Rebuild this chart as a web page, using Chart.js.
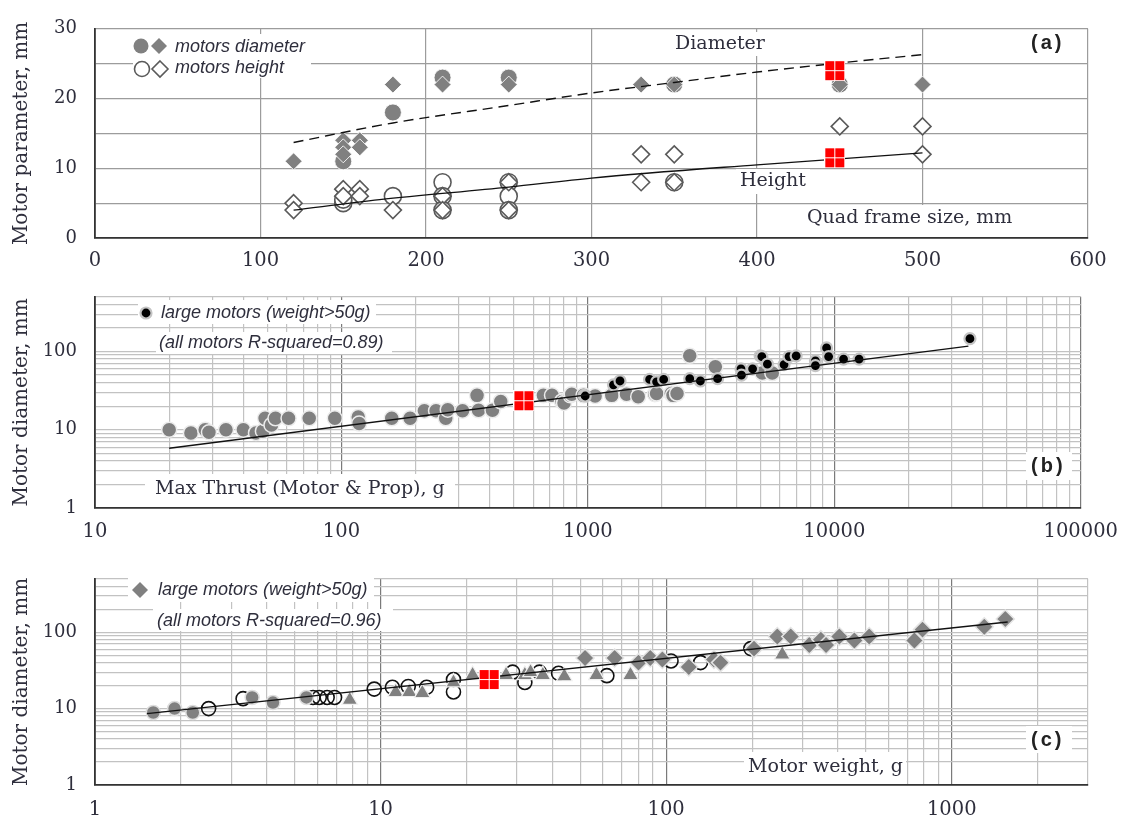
<!DOCTYPE html>
<html>
<head>
<meta charset="utf-8">
<script src="https://cdn.jsdelivr.net/npm/chart.js@4.4.1/dist/chart.umd.min.js"></script>
<style>
  html, body { margin: 0; padding: 0; background: #fff; }
  #page { position: relative; width: 1130px; height: 822px; overflow: hidden; background: #fff; }
  #page canvas { position: absolute; left: 0; }
</style>
</head>
<body>
<div id="page">
  <canvas id="panelA" width="1130" height="275" style="top:0px"></canvas>
  <canvas id="panelB" width="1130" height="277" style="top:268px"></canvas>
  <canvas id="panelC" width="1130" height="272" style="top:550px"></canvas>
</div>
<script>
// ---------- (a) motor size vs quad frame size ----------
const frameTicks = [0, 100, 200, 300, 400, 500, 600];
const paramTicks = [0, 10, 20, 30];

const frameDiaDiamond = [120, 150, 150, 150, 160, 160, 180, 210, 250, 330, 350, 450, 500];
const diaDiamond      = [11, 14, 13, 12, 14, 13, 22, 22, 22, 22, 22, 22, 22];
const frameDiaCircle  = [150, 180, 210, 250, 350, 450];
const diaCircle       = [11, 18, 23, 23, 22, 22];

const frameHtDiamond = [120, 120, 150, 150, 160, 160, 180, 210, 210, 250, 250, 330, 330, 350, 350, 450, 500, 500];
const htDiamond      = [5, 4, 7, 6, 7, 6, 4, 6, 4, 8, 4, 12, 8, 12, 8, 16, 16, 12];
const frameHtCircle  = [150, 150, 180, 210, 210, 210, 250, 250, 250, 350];
const htCircle       = [5, 5.5, 6, 8, 6, 4, 8, 6, 4, 8];

const diaTrendFrame = [120, 180, 250, 300, 350, 400, 450, 500];
const diaTrend      = [13.7, 16.5, 19.0, 20.8, 22.3, 23.8, 25.1, 26.3];
const htTrendFrame  = [120, 172, 250, 300, 400, 500];
const htTrend       = [4.0, 5.5, 7.3, 8.6, 10.5, 12.2];

const ownFrame = [447, 447];
const ownParam = [24, 11.5];

// ---------- (b) motor diameter vs max thrust ----------
const thrustDecades = [10, 100, 1000, 10000, 100000];
const diamDecades   = [1, 10, 100];

const thrustSmall = [20, 24.5, 28, 29, 34, 40, 45, 48, 49, 52, 54, 61, 74, 94, 117, 118, 160, 190, 217, 242, 265, 270, 310, 355, 360, 410, 443,
                     660, 715, 785, 800, 850, 860, 960, 1070, 1250, 1435, 1600, 1870, 1900, 2180, 2215, 2300, 2590, 3290, 5100, 5600];
const diamSmall   = [10, 9.1, 10, 9.3, 10, 10, 9.1, 9.6, 14, 11.5, 14, 14, 14, 14, 14.5, 12, 14, 14, 17.5, 17.5, 14, 18, 17.5, 27.5, 17.7, 17.7, 23,
                     27.5, 27.5, 23, 22, 27.5, 28.5, 27.5, 27, 27.5, 28.5, 26.5, 28.5, 29, 29, 27.5, 29, 88, 64, 53, 53];
const thrustLarge = [965, 975, 1270, 1350, 1780, 1900, 2030, 2590, 2860, 3360, 4180, 4200, 4660, 5000, 5080, 5350, 6250, 6550, 7000,
                     8380, 8380, 9300, 9480, 10900, 12600, 35500];
const diamLarge   = [27.5, 27, 37.5, 42, 44, 41, 44, 45, 42, 45, 60, 50, 60, 88, 86, 69, 68, 86, 88,
                     76, 66, 111, 86, 80, 80, 146];
const thrustTrend = [20, 35000];
const diamTrendB  = [5.8, 117];
const ownThrust = [550];
const ownDiamB  = [23.5];

// ---------- (c) motor diameter vs motor weight ----------
const weightDecades = [1, 10, 100, 1000];

const weightSmallDot = [1.6, 1.9, 2.2, 3.55, 4.2, 5.5];
const diamSmallDot   = [8.9, 10, 8.9, 14, 12, 14];
const weightRing = [2.5, 3.3, 5.8, 6.1, 6.5, 6.9, 9.5, 11, 12.5, 14.5, 18, 18, 29, 32, 36, 42, 62, 104, 132, 198];
const diamRing   = [10, 13.5, 14, 14, 14, 14, 18, 19, 19.5, 19, 16.5, 24, 30, 22, 30, 29, 27, 42, 40, 61];
const weightTri = [7.8, 11.3, 12.6, 14, 18, 21, 27.5, 32, 33.5, 37, 44, 57, 75, 255];
const diamTri   = [13, 16.5, 16.5, 16, 22, 27.5, 27.5, 27.5, 30, 27.5, 26.5, 27.5, 27.5, 51];
const weightLarge = [52, 66, 80, 88, 97, 120, 147, 155, 203, 245, 273, 317, 348, 363, 404, 456, 514, 740, 790, 1300, 1540];
const diamLargeC  = [46, 46, 40, 46, 44, 35, 44, 40, 61, 88, 88, 68, 80, 68, 88, 78, 88, 78, 108, 118, 149];
const weightTrend = [1.52, 1570];
const diamTrendC  = [8.6, 136];
const ownWeight = [24];
const ownDiamC  = [24];

// ---------- shared styling ----------
const GRAY = '#808080';
const INK = '#2e2e3c';
const SERIF = 'DejaVu Serif';
const SANS = 'Liberation Sans';

const xy = (xs, ys) => xs.map((x, i) => ({ x, y: ys[i] }));

// red 2x2 block marker
function blockMarker() {
  const c = document.createElement('canvas');
  c.width = 21; c.height = 21;
  const g = c.getContext('2d');
  g.fillStyle = '#fff';
  g.fillRect(0, 0, 21, 21);
  g.fillStyle = '#ff0000';
  [[1, 1], [11, 1], [1, 11], [11, 11]].forEach(([x, y]) => g.fillRect(x, y, 9, 9));
  return c;
}
const BLOCK = blockMarker();

// grid values 1..9 within each decade, up to the axis maximum
function logGrid(decades, max) {
  const out = [];
  decades.forEach(d => {
    for (let m = 1; m <= 9; m++) {
      const v = +(d * m).toPrecision(6);
      if (v <= max * (1 + 1e-9)) out.push(v);
    }
  });
  return [...new Set(out)];
}

const xTickFont = () => ({ family: SERIF, size: 19.5 });
const yTickFont = () => ({ family: SERIF, size: 18 });
const axisTitle = text => ({ display: true, text, font: { family: SERIF, size: 20 }, color: INK, padding: { top: 10, bottom: 0 } });

function linearAxisX(min, max, labels, tickPad) {
  return {
    type: 'linear', min, max,
    afterFit: s => { s.height = 37; },
    ticks: { stepSize: 100, font: xTickFont(), color: INK, padding: tickPad, maxRotation: 0, autoSkip: false,
             callback: v => labels.includes(v) ? String(v) : '' },
    grid: { color: '#9c9c9c', lineWidth: 1.2, drawTicks: false },
    border: { color: '#333', width: 1.8 }
  };
}

function logAxis(min, max, decades, isX, tickPad, title) {
  const grid = logGrid(decades, max);
  const axis = {
    type: 'logarithmic', min, max,
    afterBuildTicks: s => { s.ticks = grid.map(v => ({ value: v })); },
    ticks: { font: isX ? xTickFont() : yTickFont(), color: INK, padding: tickPad, maxRotation: 0, autoSkip: false,
             callback: v => decades.includes(v) ? String(v) : '' },
    grid: {
      lineWidth: 1.2, drawTicks: false,
      color: ctx => (isX && ctx.tick && decades.includes(ctx.tick.value)) ? '#7a7a7a' : '#c2c2c2'
    },
    border: { color: '#333', width: 1.8 }
  };
  if (isX) {
    axis.afterFit = s => { s.height = 37; };
  } else {
    axis.afterFit = s => { s.width = 95; };
    axis.title = axisTitle(title);
  }
  return axis;
}

// white-backed notes, legend entries and panel tags drawn inside the plot
function notesPlugin(top, items) {
  return {
    id: 'notes',
    beforeDatasetsDraw(chart) {
      const ctx = chart.ctx;
      ctx.save();
      items.forEach(it => {
        if (it.box) {
          ctx.fillStyle = '#fff';
          ctx.fillRect(it.box[0], it.box[1] - top, it.box[2], it.box[3]);
        }
        if (it.mark) drawMark(ctx, it.mark, it.mx, it.my - top);
        if (it.text) {
          ctx.font = it.font;
          ctx.fillStyle = it.color || INK;
          ctx.textAlign = 'left';
          ctx.textBaseline = 'middle';
          ctx.letterSpacing = it.spacing || '0px';
          ctx.fillText(it.text, it.x, it.y - top);
        }
      });
      ctx.restore();
    }
  };
}

function drawMark(ctx, kind, x, y) {
  ctx.save();
  ctx.beginPath();
  if (kind === 'dot' || kind === 'ring' || kind === 'black') {
    const r = kind === 'black' ? 5.5 : 7.5;
    ctx.arc(x, y, r, 0, Math.PI * 2);
  } else {
    const r = 8;
    ctx.moveTo(x, y - r); ctx.lineTo(x + r, y); ctx.lineTo(x, y + r); ctx.lineTo(x - r, y); ctx.closePath();
  }
  if (kind === 'dot' || kind === 'diamond') { ctx.fillStyle = GRAY; ctx.fill(); }
  if (kind === 'ring' || kind === 'openDiamond') {
    ctx.fillStyle = '#fff'; ctx.fill();
    ctx.strokeStyle = '#5a5a5a'; ctx.lineWidth = 1.6; ctx.stroke();
  }
  if (kind === 'black') {
    ctx.fillStyle = '#000'; ctx.fill();
    ctx.strokeStyle = '#c4c4c4'; ctx.lineWidth = 2.2; ctx.stroke();
  }
  ctx.restore();
}

const ITALIC = `italic 18px "${SANS}"`;
const NOTE = `19px "${SERIF}"`;
const TAG = `bold 20px "${SANS}"`;

const common = {
  responsive: false,
  animation: false,
  events: [],
  plugins: { legend: { display: false }, tooltip: { enabled: false } }
};

// ---------- panel (a) ----------
new Chart(document.getElementById('panelA'), {
  type: 'scatter',
  data: {
    datasets: [
      { data: xy(ownFrame, ownParam), pointStyle: BLOCK, order: 0 },
      { data: xy(diaTrendFrame, diaTrend), showLine: true, borderColor: '#111', borderWidth: 1.4, borderDash: [10, 6],
        pointRadius: 0, tension: 0.4, cubicInterpolationMode: 'monotone', order: 1 },
      { data: xy(htTrendFrame, htTrend), showLine: true, borderColor: '#111', borderWidth: 1.3,
        pointRadius: 0, tension: 0.4, cubicInterpolationMode: 'monotone', order: 1 },
      { data: xy(frameDiaDiamond, diaDiamond), pointStyle: 'rectRot', pointRadius: 8.5,
        backgroundColor: GRAY, borderColor: 'rgba(255,255,255,0.85)', borderWidth: 1, order: 2 },
      { data: xy(frameDiaCircle, diaCircle), pointStyle: 'circle', pointRadius: 8.5,
        backgroundColor: GRAY, borderColor: 'rgba(255,255,255,0.85)', borderWidth: 1, order: 3 },
      { data: xy(frameHtDiamond, htDiamond), pointStyle: 'rectRot', pointRadius: 8.5,
        backgroundColor: '#fff', borderColor: '#5a5a5a', borderWidth: 1.6, order: 4 },
      { data: xy(frameHtCircle, htCircle), pointStyle: 'circle', pointRadius: 8.5,
        backgroundColor: '#fff', borderColor: '#5a5a5a', borderWidth: 1.6, order: 5 }
    ]
  },
  options: {
    ...common,
    layout: { padding: { top: 15, right: 42, bottom: 0, left: 0 } },
    scales: {
      x: linearAxisX(0, 600, frameTicks, 11),
      y: {
        type: 'linear', min: 0, max: 30,
        afterFit: s => { s.width = 95; },
        ticks: { stepSize: 5, font: yTickFont(), color: INK, padding: 18, autoSkip: false,
                 callback: v => paramTicks.includes(v) ? String(v) : '' },
        grid: { color: '#9c9c9c', lineWidth: 1.2, drawTicks: false },
        border: { color: '#333', width: 1.8 },
        title: axisTitle('Motor parameter, mm')
      }
    }
  },
  plugins: [notesPlugin(0, [
    { box: [133, 34, 178, 44] },
    { mark: 'dot', mx: 141, my: 46 }, { mark: 'diamond', mx: 159, my: 46 },
    { mark: 'ring', mx: 142, my: 69 }, { mark: 'openDiamond', mx: 160, my: 69 },
    { text: 'motors diameter', font: ITALIC, x: 175, y: 47 },
    { text: 'motors height', font: ITALIC, x: 175, y: 68 },
    { box: [670, 32, 98, 24], text: 'Diameter', font: NOTE, x: 675, y: 44 },
    { box: [736, 169, 74, 25], text: 'Height', font: NOTE, x: 740, y: 181 },
    { box: [800, 205, 222, 32], text: 'Quad frame size, mm', font: NOTE, x: 807, y: 218 },
    { box: [1026, 30, 46, 27], text: '(a)', font: TAG, x: 1031, y: 43, spacing: '3px', color: '#222' }
  ])]
});

// ---------- panel (b) ----------
new Chart(document.getElementById('panelB'), {
  type: 'scatter',
  data: {
    datasets: [
      { data: xy(ownThrust, ownDiamB), pointStyle: BLOCK, order: 0 },
      { data: xy(thrustTrend, diamTrendB), showLine: true, borderColor: '#111', borderWidth: 1.4, pointRadius: 0, order: 1 },
      { data: xy(thrustLarge, diamLarge), pointStyle: 'circle', pointRadius: 5.5,
        backgroundColor: '#000', borderColor: '#c4c4c4', borderWidth: 2.2, order: 2 },
      { data: xy(thrustSmall, diamSmall), pointStyle: 'circle', pointRadius: 7.5,
        backgroundColor: GRAY, borderColor: '#ececec', borderWidth: 1.5, order: 3 }
    ]
  },
  options: {
    ...common,
    layout: { padding: { top: 15, right: 43, bottom: 0, left: 0 } },
    scales: {
      x: logAxis(10, 100000, thrustDecades, true, 12),
      y: logAxis(1, 500, diamDecades, false, 18, 'Motor diameter, mm')
    }
  },
  plugins: [notesPlugin(268, [
    { box: [138, 300, 238, 24] },
    { mark: 'black', mx: 146, my: 313 },
    { text: 'large motors (weight>50g)', font: ITALIC, x: 161, y: 313 },
    { box: [156, 332, 236, 22], text: '(all motors R-squared=0.89)', font: ITALIC, x: 159, y: 343 },
    { box: [145, 474, 310, 33], text: 'Max Thrust (Motor & Prop), g', font: NOTE, x: 155, y: 489 },
    { box: [1026, 452, 46, 28], text: '(b)', font: TAG, x: 1031, y: 466, spacing: '3px', color: '#222' }
  ])]
});

// ---------- panel (c) ----------
new Chart(document.getElementById('panelC'), {
  type: 'scatter',
  data: {
    datasets: [
      { data: xy(ownWeight, ownDiamC), pointStyle: BLOCK, order: 0 },
      { data: xy(weightTrend, diamTrendC), showLine: true, borderColor: '#111', borderWidth: 1.4, pointRadius: 0, order: 1 },
      { data: xy(weightLarge, diamLargeC), pointStyle: 'rectRot', pointRadius: 9,
        backgroundColor: GRAY, borderColor: '#e4e4e4', borderWidth: 1.5, order: 2 },
      { data: xy(weightTri, diamTri), pointStyle: 'triangle', pointRadius: 9,
        backgroundColor: GRAY, borderColor: '#f0f0f0', borderWidth: 1.2, order: 3 },
      { data: xy(weightSmallDot, diamSmallDot), pointStyle: 'circle', pointRadius: 7,
        backgroundColor: GRAY, borderColor: '#dedede', borderWidth: 1.5, order: 4 },
      { data: xy(weightRing, diamRing), pointStyle: 'circle', pointRadius: 7,
        backgroundColor: 'rgba(255,255,255,0)', borderColor: '#111', borderWidth: 1.6, order: 5 }
    ]
  },
  options: {
    ...common,
    layout: { padding: { top: 15, right: 42, bottom: 0, left: 0 } },
    scales: {
      x: logAxis(1, 3000, weightDecades, true, 13),
      y: logAxis(1, 500, diamDecades, false, 18, 'Motor diameter, mm')
    }
  },
  plugins: [notesPlugin(550, [
    { box: [128, 578, 246, 24] },
    { mark: 'diamond', mx: 140, my: 590 },
    { text: 'large motors (weight>50g)', font: ITALIC, x: 158, y: 590 },
    { box: [153, 609, 240, 22], text: '(all motors R-squared=0.96)', font: ITALIC, x: 157, y: 621 },
    { box: [744, 752, 162, 32], text: 'Motor weight, g', font: NOTE, x: 748, y: 767 },
    { box: [1026, 726, 46, 27], text: '(c)', font: TAG, x: 1031, y: 740, spacing: '3px', color: '#222' }
  ])]
});
</script>
</body>
</html>
